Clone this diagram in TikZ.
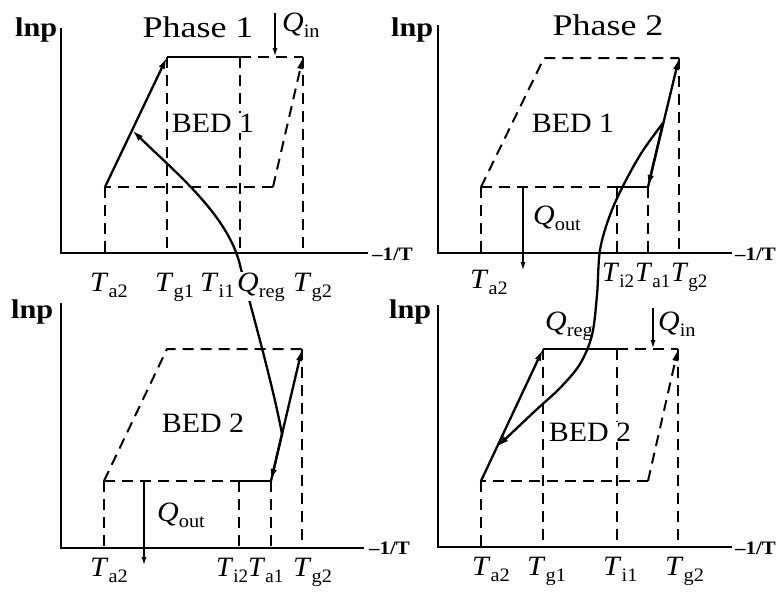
\documentclass[tikz,border=0pt]{standalone}
\usepackage{fontspec}
\setmainfont{Liberation Serif}
\usetikzlibrary{arrows.meta}
\newcommand{\hs}[2][1.07]{\scalebox{#1}[1]{#2}}
\newcommand{\sbs}[1]{\raisebox{-6pt}{\fontsize{19}{19}\selectfont #1}}
\newcommand{\TT}[1]{\hs{\textit{T}\sbs{#1}}}
\newcommand{\QQ}[1]{\hs{\textit{Q}\sbs{#1}}}
\begin{document}
\begin{tikzpicture}[x=1pt,y=-1pt,
  ax/.style={line width=2.3pt},
  sol/.style={line width=2.3pt},
  dsh/.style={line width=2pt, dash pattern=on 11pt off 7pt},
  arr/.style={-{Latex[length=12pt,width=6.5pt]}},
  sarr/.style={-{Latex[length=9pt,width=5pt]}},
  lab/.style={inner sep=0pt, anchor=base west, font=\fontsize{28}{30}\selectfont},
  bed/.style={inner sep=1pt, fill=white, font=\fontsize{28}{32}\selectfont},
  ph/.style={inner sep=0pt, anchor=base, font=\fontsize{30}{34}\selectfont},
  lnp/.style={inner sep=0pt, anchor=base west, font=\fontsize{27}{29}\selectfont\bfseries},
  invT/.style={inner sep=0pt, anchor=base west, font=\fontsize{19}{21}\selectfont\bfseries}]
\path[use as bounding box, fill=white] (0,0) rectangle (780,595);

% ---------- Panel A (top-left) ----------
\coordinate (A-y) at (61,28);
\coordinate (A-o) at (61,253);
\coordinate (A-x) at (368,253);
\coordinate (A-bl) at (105,187);
\coordinate (A-tl) at (167,57);
\coordinate (A-tm) at (240,57);
\coordinate (A-tr) at (303,57);
\coordinate (A-br) at (273,187);
\coordinate (A-fa2) at (105,253);
\coordinate (A-fg1) at (167,253);
\coordinate (A-fi1) at (240,253);
\coordinate (A-fg2) at (303,253);
\coordinate (A-q0) at (275,13);
\coordinate (A-q1) at (275,57);
\coordinate (A-m) at (132,130);
\coordinate (A-c) at (240,265);

% ---------- Panel B (top-right) ----------
\coordinate (B-y) at (438,25);
\coordinate (B-o) at (438,253);
\coordinate (B-x) at (732,253);
\coordinate (B-bl) at (481,187);
\coordinate (B-tl) at (544,58);
\coordinate (B-tr) at (679,58);
\coordinate (B-br) at (648,187);
\coordinate (B-bm) at (617,187);
\coordinate (B-fa2) at (481,253);
\coordinate (B-fi2) at (617,253);
\coordinate (B-fa1) at (648,253);
\coordinate (B-fg2) at (679,253);
\coordinate (B-q0) at (523,187);
\coordinate (B-q1) at (523,271);
\coordinate (B-m) at (663,123);

% ---------- Panel C (bottom-left) ----------
\coordinate (C-y) at (61,303);
\coordinate (C-o) at (61,548);
\coordinate (C-x) at (364,548);
\coordinate (C-bl) at (104,481);
\coordinate (C-tl) at (167,349);
\coordinate (C-tr) at (302,349);
\coordinate (C-br) at (271,481);
\coordinate (C-bm) at (239,481);
\coordinate (C-fa2) at (104,548);
\coordinate (C-fi2) at (239,548);
\coordinate (C-fa1) at (271,548);
\coordinate (C-fg2) at (302,548);
\coordinate (C-q0) at (144,481);
\coordinate (C-q1) at (144,566);
\coordinate (C-m) at (282,434);

% ---------- Panel D (bottom-right) ----------
\coordinate (D-y) at (438,305);
\coordinate (D-o) at (438,547);
\coordinate (D-x) at (732,547);
\coordinate (D-bl) at (481,481);
\coordinate (D-tl) at (543,349);
\coordinate (D-tm) at (617,349);
\coordinate (D-tr) at (678,349);
\coordinate (D-br) at (648,481);
\coordinate (D-fa2) at (481,547);
\coordinate (D-fg1) at (543,547);
\coordinate (D-fi1) at (617,547);
\coordinate (D-fg2) at (678,547);
\coordinate (D-q0) at (653,308);
\coordinate (D-q1) at (653,349);
\coordinate (D-m) at (497,447);

% axes
\draw[ax] (A-y) -- (A-o) -- (A-x);
\draw[ax] (B-y) -- (B-o) -- (B-x);
\draw[ax] (C-y) -- (C-o) -- (C-x);
\draw[ax] (D-y) -- (D-o) -- (D-x);

% dashed lines A
\draw[dsh] (A-bl) -- (A-fa2);
\draw[dsh] (A-tl) -- (A-fg1);
\draw[dsh] (A-tm) -- (A-fi1);
\draw[dsh] (A-tr) -- (A-fg2);
\draw[dsh] (A-tm) -- (A-tr);
\draw[dsh] (A-br) -- (A-bl);
\draw[dsh,arr] (A-br) -- (A-tr);
% dashed lines B
\draw[dsh] (B-bl) -- (B-fa2);
\draw[dsh] (B-bm) -- (B-fi2);
\draw[dsh] (B-br) -- (B-fa1);
\draw[dsh] (B-tr) -- (B-fg2);
\draw[dsh] (B-bl) -- (B-tl) -- (B-tr);
\draw[dsh] (B-bl) -- (B-bm);
% dashed lines C
\draw[dsh] (C-bl) -- (C-fa2);
\draw[dsh] (C-bm) -- (C-fi2);
\draw[dsh] (C-br) -- (C-fa1);
\draw[dsh] (C-tr) -- (C-fg2);
\draw[dsh] (C-bl) -- (C-tl) -- (C-tr);
\draw[dsh] (C-bl) -- (C-bm);
% dashed lines D
\draw[dsh] (D-bl) -- (D-fa2);
\draw[dsh] (D-tl) -- (D-fg1);
\draw[dsh] (D-tm) -- (D-fi1);
\draw[dsh] (D-tr) -- (D-fg2);
\draw[dsh] (D-tm) -- (D-tr);
\draw[dsh] (D-br) -- (D-bl);
\draw[dsh,arr] (D-br) -- (D-tr);

% BED labels (white background interrupts dashed lines)
\node[bed] (bedA) at (213,123) {\hs[1.07]{BED 1}};
\node[bed] (bedB) at (573,123) {\hs[1.07]{BED 1}};
\node[bed] (bedC) at (203,423) {\hs[1.07]{BED 2}};
\node[bed] (bedD) at (590,432) {\hs[1.07]{BED 2}};

% solid processes
\draw[sol,arr] (A-bl) -- (A-tl);
\draw[sol] (A-tl) -- (A-tm);
\draw[sol] (B-bm) -- (B-br);
\draw[sol,arr] (B-br) -- (B-tr);
\draw[sol,arr] (B-m) -- (B-br);
\draw[sol] (C-bm) -- (C-br);
\draw[sol,arr] (C-br) -- (C-tr);
\draw[sol,arr] (C-m) -- (C-br);
\draw[sol,arr] (D-bl) -- (D-tl);
\draw[sol] (D-tl) -- (D-tm);

% heat arrows
\draw[sol,sarr] (A-q0) -- (A-q1);
\draw[sol,sarr] (B-q0) -- (B-q1);
\draw[sol,sarr] (C-q0) -- (C-q1);
\draw[sol,sarr] (D-q0) -- (D-q1);

% regeneration curves
\draw[sol,arr] (C-m) .. controls (272,380) and (246,290) .. (A-c)
               .. controls (228,215) and (175,172) .. (A-m);
\draw[sol,arr] plot[smooth,tension=0.55] coordinates {(B-m) (642,152) (624,184) (610,215) (600,250) (597,295) (592,335) (580,364) (560,388) (535,411) (D-m)};

% axis labels
\node[lnp] (lnpA) at (15,36) {\hs[1.12]{lnp}};
\node[lnp] (lnpB) at (391,36) {\hs[1.12]{lnp}};
\node[lnp] (lnpC) at (11,318) {\hs[1.12]{lnp}};
\node[lnp] (lnpD) at (389,318) {\hs[1.12]{lnp}};
\node[invT] (tA) at (372,260) {\hs[1.1]{\textendash1/T}};
\node[invT] (tB) at (735,260) {\hs[1.1]{\textendash1/T}};
\node[invT] (tC) at (369,554) {\hs[1.1]{\textendash1/T}};
\node[invT] (tD) at (735,554) {\hs[1.1]{\textendash1/T}};

% phase titles
\node[ph] (ph1) at (198,37) {\hs[1.2]{Phase 1}};
\node[ph] (ph2) at (608,35) {\hs[1.2]{Phase 2}};

% tick labels A
\node[lab] (A-la2) at (90,291) {\TT{a2}};
\node[lab] (A-lg1) at (155,291) {\TT{g1}};
\node[lab] (A-li1) at (200,291) {\TT{i1}};
\node[lab, fill=white] (A-lreg) at (237,291) {\QQ{reg}};
\node[lab] (A-lg2) at (293,291) {\TT{g2}};
\node[lab] (A-lin) at (282,31) {\QQ{in}};
% tick labels B
\node[lab] (B-la2) at (470,288) {\TT{a2}};
\node[lab] (B-li2) at (602,281) {\hs[1.0]{\textit{T}\sbs{i2}}};
\node[lab] (B-la1) at (635,281) {\hs[1.0]{\textit{T}\sbs{a1}}};
\node[lab] (B-lg2) at (671,281) {\hs[1.0]{\textit{T}\sbs{g2}}};
\node[lab] (B-lout) at (533,224) {\QQ{out}};
% tick labels C
\node[lab] (C-la2) at (90,576) {\TT{a2}};
\node[lab] (C-li2) at (216,576) {\hs[1.0]{\textit{T}\sbs{i2}}};
\node[lab] (C-la1) at (248,576) {\hs[1.0]{\textit{T}\sbs{a1}}};
\node[lab] (C-lg2) at (293,576) {\TT{g2}};
\node[lab] (C-lout) at (157,521) {\QQ{out}};
% tick labels D
\node[lab] (D-la2) at (472,575) {\TT{a2}};
\node[lab] (D-lg1) at (527,575) {\TT{g1}};
\node[lab] (D-li1) at (603,575) {\TT{i1}};
\node[lab] (D-lg2) at (665,575) {\TT{g2}};
\node[lab] (D-lin) at (658,330) {\QQ{in}};
\node[lab] (D-lreg) at (545,330) {\QQ{reg}};
\end{tikzpicture}
\end{document}
